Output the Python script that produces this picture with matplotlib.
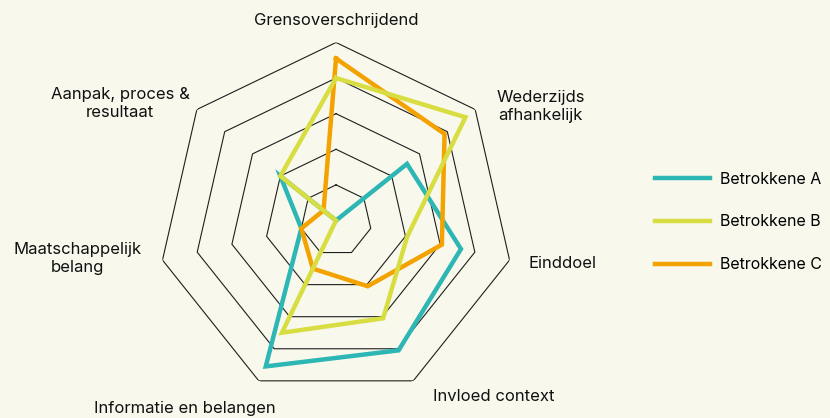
import numpy as np
import matplotlib.pyplot as plt

# axes clockwise from the top
axis_labels = ["Grensoverschrijdend", "Wederzijds\nafhankelijk", "Einddoel",
               "Invloed context", "Informatie en belangen",
               "Maatschappelijk\nbelang", "Aanpak, proces &\nresultaat"]
series_names = ["Betrokkene A", "Betrokkene B", "Betrokkene C"]
values_a = [0.0, 2.55, 3.6, 4.05, 4.55, 1.0, 2.0]
values_b = [4.0, 4.65, 2.05, 3.05, 3.5, 0.0, 2.0]
values_c = [4.55, 3.9, 3.05, 2.05, 1.5, 1.0, 0.45]
ring_levels = [1, 2, 3, 4, 5]

colors = ["#2db6b4", "#d8dd42", "#f3a200"]
bg = "#f8f9ec"

plt.rcParams['font.family'] = ['Inter', 'DejaVu Sans']

n = len(axis_labels)
theta = np.pi / 2 - np.arange(n) * 2 * np.pi / n
theta_closed = np.append(theta, theta[0])

fig = plt.figure(figsize=(8.3, 4.18), dpi=100, facecolor=bg)
ax = fig.add_axes([0.1904, 0.0467, 0.4289, 0.8517], projection='polar')
ax.set_facecolor(bg)
ax.set_ylim(0, 5)
ax.grid(False)
ax.spines['polar'].set_visible(False)
ax.set_xticks([])
ax.set_yticks([])

for lv in ring_levels:
    ax.plot(theta_closed, [lv] * (n + 1), color="#1e1e1e", lw=0.8, zorder=1)

for vals, c, name in zip([values_a, values_c, values_b],
                         [colors[0], colors[2], colors[1]],
                         [series_names[0], series_names[2], series_names[1]]):
    ax.plot(theta_closed, vals + vals[:1], color=c, lw=3.2, label=name,
            solid_joinstyle='miter', zorder=3)

# label positions (angle in degrees, radius in data units)
label_pos = [(90, 5.63), (29, 6.58), (-10.8, 6.49), (-48, 6.64),
             (231.2, 6.76), (188.4, 7.33), (151.5, 6.9)]
for txt, (ang, r) in zip(axis_labels, label_pos):
    ax.text(np.deg2rad(ang), r, txt, ha='center', va='center',
            fontsize=12, color="#111111", linespacing=1.25, clip_on=False)

handles, labs = ax.get_legend_handles_labels()
order = [labs.index(s) for s in series_names]
leg = fig.legend([handles[i] for i in order], [labs[i] for i in order],
                 loc='center left', bbox_to_anchor=(0.789, 0.469),
                 frameon=False, fontsize=11.5, handlelength=3.45,
                 handletextpad=0.62, labelspacing=1.75,
                 borderpad=0, borderaxespad=0)

fig.savefig("out.png", dpi=100, facecolor=bg)
